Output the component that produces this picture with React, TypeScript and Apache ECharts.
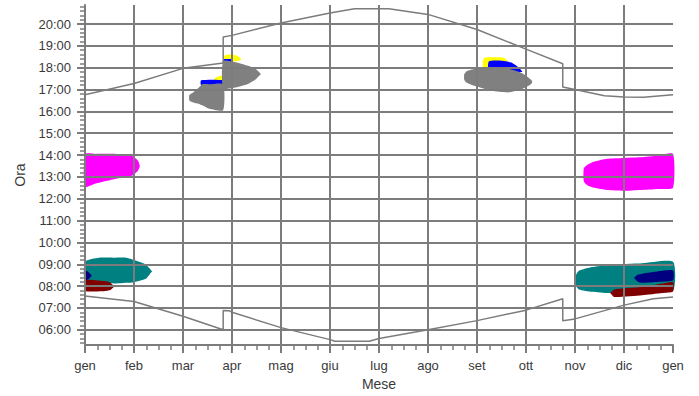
import React, { useEffect, useRef } from "react";
import * as echarts from "echarts";

// ---- axes ----
const monthLabels = ["gen", "feb", "mar", "apr", "mag", "giu", "lug", "ago", "set", "ott", "nov", "dic", "gen"];
const hourTicks = [6, 7, 8, 9, 10, 11, 12, 13, 14, 15, 16, 17, 18, 19, 20];
const yMin = 5.3;
const yMax = 20.87;
// minor ticks every 12 minutes
const minorHourTicks: number[] = [];
for (let k = 27; k <= 104; k++) minorHourTicks.push(Math.round(k * 0.2 * 1000) / 1000);

// ---- sunset / sunrise (month units, decimal hours) ----
const sunsetMonth = [0, 1, 2, 2.82, 2.82, 3, 4, 5, 5.5, 6.2, 7, 8, 9, 9.75, 9.75, 10, 10.6, 11, 11.4, 12];
const sunsetHour = [16.76, 17.28, 17.97, 18.22, 19.4, 19.48, 20.05, 20.5, 20.7, 20.7, 20.44, 19.75, 18.85, 18.18, 17.12, 17.0, 16.72, 16.66, 16.65, 16.76];

const sunriseMonth = [0, 1, 2, 2.82, 2.82, 2.95, 3, 4, 5, 5.1, 5.8, 6, 7, 8, 9, 9.75, 9.75, 10, 11, 11.6, 12];
const sunriseHour = [7.55, 7.3, 6.62, 6.0, 6.88, 6.87, 6.8, 6.1, 5.55, 5.48, 5.48, 5.6, 6.0, 6.42, 6.9, 7.42, 6.42, 6.5, 7.13, 7.42, 7.5];

// ---- shadow bands: month positions, lower hour, upper hour ----
type Band = { m: number[]; lo: number[]; hi: number[] };

const yellowMar: Band = { m: [2.63, 2.7, 2.82], lo: [17.4, 17.4, 17.4], hi: [17.45, 17.58, 17.62] };
const blueMar: Band = { m: [2.37, 2.82], lo: [17.2, 17.2], hi: [17.42, 17.42] };
const grayMar: Band = {
  m: [2.13, 2.2, 2.33, 2.39, 2.54, 2.82],
  lo: [16.5, 16.42, 16.34, 16.28, 16.12, 16.05],
  hi: [16.75, 16.85, 17.1, 17.24, 17.24, 17.24],
};
const yellowApr: Band = { m: [2.84, 3.0, 3.14, 3.19], lo: [18.3, 18.28, 18.32, 18.38], hi: [18.55, 18.62, 18.5, 18.38] };
const blueApr: Band = { m: [2.82, 3.0], lo: [18.24, 18.24], hi: [18.38, 18.38] };
const grayApr: Band = {
  m: [2.82, 3.07, 3.31, 3.48, 3.59],
  lo: [17.05, 17.09, 17.24, 17.46, 17.71],
  hi: [18.3, 18.25, 18.1, 17.95, 17.71],
};
const yellowSep: Band = { m: [8.12, 8.15, 8.55, 8.62], lo: [17.9, 17.9, 17.9, 17.9], hi: [18.3, 18.46, 18.46, 18.3] };
const blueSep: Band = {
  m: [8.24, 8.45, 8.7, 8.85, 8.92],
  lo: [17.8, 17.8, 17.8, 17.8, 17.8],
  hi: [18.28, 18.33, 18.24, 18.01, 17.84],
};
const graySep: Band = {
  m: [7.74, 7.79, 7.96, 8.3, 8.64, 8.91, 9.1, 9.13],
  lo: [17.45, 17.31, 17.16, 16.94, 16.87, 17.01, 17.24, 17.36],
  hi: [17.7, 17.84, 17.95, 18.01, 17.95, 17.76, 17.46, 17.36],
};
const magentaJan: Band = {
  m: [0, 0.22, 0.63, 0.97, 1.08, 1.12],
  lo: [12.55, 12.7, 12.92, 13.07, 13.28, 13.5],
  hi: [14.05, 14.05, 14.05, 13.95, 13.75, 13.5],
};
const magentaDec: Band = {
  m: [10.18, 10.25, 10.4, 10.65, 11.0, 11.32, 11.7, 12],
  lo: [12.8, 12.62, 12.5, 12.4, 12.36, 12.4, 12.45, 12.5],
  hi: [13.4, 13.55, 13.7, 13.83, 13.87, 13.9, 13.97, 14.05],
};
const tealJan: Band = {
  m: [0, 0.29, 0.63, 0.84, 1.0, 1.15, 1.25, 1.37],
  lo: [8.2, 8.15, 8.12, 8.15, 8.18, 8.27, 8.35, 8.68],
  hi: [9.12, 9.3, 9.3, 9.3, 9.2, 9.08, 8.97, 8.68],
};
const navyJan: Band = { m: [0, 0.07, 0.14], lo: [8.27, 8.32, 8.48], hi: [8.72, 8.65, 8.48] };
const redJan: Band = { m: [0, 0.43, 0.52, 0.6], lo: [7.78, 7.78, 7.82, 7.98], hi: [8.27, 8.22, 8.15, 7.98] };
const tealDec: Band = {
  m: [10.02, 10.08, 10.35, 10.69, 11.37, 12],
  lo: [8.0, 7.85, 7.74, 7.68, 7.7, 7.8],
  hi: [8.5, 8.7, 8.87, 8.97, 9.05, 9.12],
};
const navyDec: Band = { m: [11.2, 11.28, 11.37, 11.71, 12], lo: [8.38, 8.2, 8.15, 8.2, 8.27], hi: [8.38, 8.52, 8.57, 8.68, 8.72] };
const redDec: Band = { m: [10.72, 10.8, 11.37, 11.78, 12], lo: [7.68, 7.5, 7.58, 7.68, 7.75], hi: [7.68, 7.85, 7.96, 8.12, 8.18] };

const YELLOW = "#ffff00";
const BLUE = "#0000ff";
const GRAY = "#808080";
const MAGENTA = "#ff00ff";
const TEAL = "#008080";
const NAVY = "#000080";
const DARKRED = "#800000";

const bands: [Band, string][] = [
  [yellowMar, YELLOW], [blueMar, BLUE], [grayMar, GRAY],
  [yellowApr, YELLOW], [blueApr, BLUE], [grayApr, GRAY],
  [yellowSep, YELLOW], [blueSep, BLUE], [graySep, GRAY],
  [magentaJan, MAGENTA], [magentaDec, MAGENTA],
  [tealJan, TEAL], [navyJan, NAVY], [redJan, DARKRED],
  [tealDec, TEAL], [navyDec, NAVY], [redDec, DARKRED],
];

const LINE = "#7c7c7c";
const TEXT = "#3a3a3a";
const FONT = "'Liberation Sans', Arial, sans-serif";

export default function App() {
  const ref = useRef<HTMLDivElement>(null);
  useEffect(() => {
    if (!ref.current) return;
    const chart = echarts.init(ref.current, null, { renderer: "svg" });
    const fmtHour = (v: number) => (v < 10 ? "0" : "") + Math.round(v) + ":00";
    chart.setOption({
      animation: false,
      backgroundColor: "#ffffff",
      textStyle: { fontFamily: FONT },
      grid: { left: 85, right: 26, top: 5, bottom: 42 },
      xAxis: {
        type: "value",
        min: 0,
        max: 12,
        interval: 1,
        z: 3,
        name: "Mese",
        nameLocation: "middle",
        nameGap: 25,
        nameTextStyle: { color: TEXT, fontSize: 14, fontFamily: FONT },
        axisLine: { show: true, onZero: false, lineStyle: { color: LINE, width: 2 } },
        axisTick: { show: true, length: 8, lineStyle: { color: LINE, width: 2 } },
        minorTick: { show: true, splitNumber: 4, length: 5, lineStyle: { color: LINE, width: 1.5 } },
        axisLabel: {
          color: TEXT,
          fontSize: 13,
          fontFamily: FONT,
          margin: 14,
          formatter: (v: number) => monthLabels[Math.round(v)] ?? "",
        },
        splitLine: { show: true, showMinLine: false, showMaxLine: false, lineStyle: { color: LINE, width: 2 } },
      },
      yAxis: [
        {
          type: "value",
          min: yMin,
          max: yMax,
          position: "left",
          z: 3,
          axisLine: { show: true, lineStyle: { color: LINE, width: 2 } },
          axisTick: { show: true, length: 5, customValues: minorHourTicks, lineStyle: { color: LINE, width: 1.5 } },
          axisLabel: { show: false },
          splitLine: { show: false },
        },
        {
          type: "value",
          min: yMin,
          max: yMax,
          position: "left",
          offset: 0,
          z: 3,
          name: "Ora",
          nameLocation: "middle",
          nameGap: 58,
          nameTextStyle: { color: TEXT, fontSize: 14, fontFamily: FONT },
          axisLine: { show: false },
          axisTick: { show: true, length: 8, customValues: hourTicks, lineStyle: { color: LINE, width: 2 } },
          axisLabel: {
            color: TEXT,
            fontSize: 13,
            fontFamily: FONT,
            margin: 14,
            customValues: hourTicks,
            formatter: fmtHour,
          },
          splitLine: { show: true, lineStyle: { color: LINE, width: 2 } },
        },
      ],
      series: [
        {
          type: "custom",
          silent: true,
          z: 1,
          yAxisIndex: 0,
          data: bands.map((b, i) => [b[0].m[0], b[0].lo[0], i]),
          encode: { x: 0, y: 1 },
          renderItem: (params: any, api: any) => {
            const [band, color] = bands[params.dataIndex];
            const pts: number[][] = [];
            for (let i = 0; i < band.m.length; i++) pts.push(api.coord([band.m[i], band.hi[i]]));
            for (let i = band.m.length - 1; i >= 0; i--) pts.push(api.coord([band.m[i], band.lo[i]]));
            return { type: "polygon", shape: { points: pts, smooth: 0.2 }, style: { fill: color } };
          },
        },
        {
          type: "line",
          name: "tramonto",
          yAxisIndex: 0,
          z: 4,
          showSymbol: false,
          silent: true,
          lineStyle: { color: LINE, width: 1.5 },
          data: sunsetMonth.map((m, i) => [m, sunsetHour[i]]),
        },
        {
          type: "line",
          name: "alba",
          yAxisIndex: 0,
          z: 4,
          showSymbol: false,
          silent: true,
          lineStyle: { color: LINE, width: 1.5 },
          data: sunriseMonth.map((m, i) => [m, sunriseHour[i]]),
        },
      ],
    });
    return () => chart.dispose();
  }, []);
  return (
    <div
      ref={ref}
      style={{ position: "fixed", left: 0, top: 0, width: 699, height: 396, background: "#fff" }}
    />
  );
}
